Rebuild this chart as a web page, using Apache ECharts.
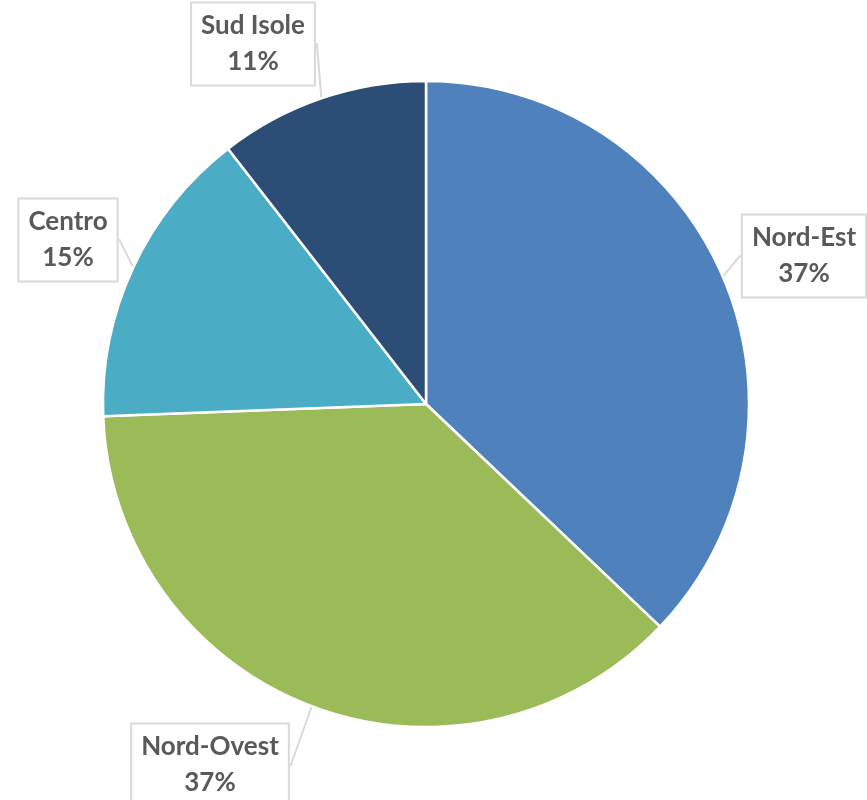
<!DOCTYPE html>
<html>
<head>
<meta charset="utf-8">
<script src="https://cdn.jsdelivr.net/npm/echarts@6/dist/echarts.min.js"></script>
<style>html,body{margin:0;padding:0;background:#fff;}#c{width:867px;height:800px;}</style>
</head>
<body>
<div id="c"></div>
<script>
const categories = ['Nord-Est', 'Nord-Ovest', 'Centro', 'Sud Isole'];
const values = [37.1, 37.3, 15.1, 10.5];
const colors = ['#4F81BD', '#9BBB59', '#4BACC6', '#2C4D75'];
const labelCenters = [[804, 256], [210, 765], [68, 240], [253, 44]];

const chart = echarts.init(document.getElementById('c'), null, {renderer: 'canvas'});
chart.setOption({
  animation: false,
  series: [{
    type: 'pie',
    center: [426, 404],
    radius: [0, 323],
    startAngle: 90,
    clockwise: true,
    percentPrecision: 0,
    data: categories.map((n, i) => ({name: n, value: values[i], itemStyle: {color: colors[i]}})),
    itemStyle: {borderColor: '#ffffff', borderWidth: 2.5},
    label: {
      show: true,
      position: 'outside',
      formatter: '{b}\n{d}%',
      fontFamily: 'Lato',
      fontWeight: 'bold',
      fontSize: 26,
      lineHeight: 36,
      color: '#595959',
      align: 'center',
      backgroundColor: '#ffffff',
      borderColor: '#d9d9d9',
      borderWidth: 2,
      padding: [8, 9, 1, 9]
    },
    labelLine: {show: true, length: 1, length2: 1, lineStyle: {color: '#d9d9d9', width: 2}},
    labelLayout: function (p) {
      const c = labelCenters[p.dataIndex];
      return {x: c[0], y: c[1], align: 'center', verticalAlign: 'middle'};
    },
    emphasis: {disabled: true}
  }]
});
</script>
</body>
</html>
